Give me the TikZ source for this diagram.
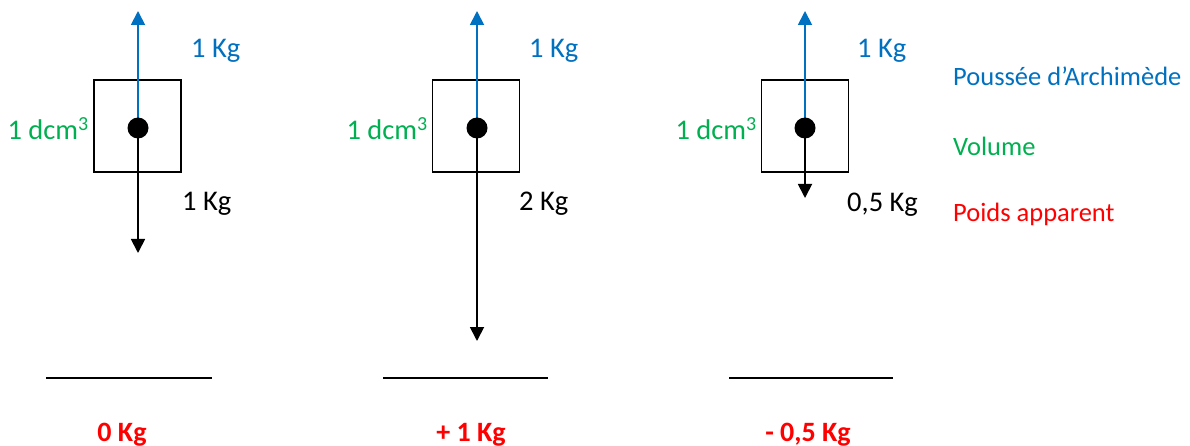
\documentclass[tikz,border=0pt]{standalone}
\usepackage{fontspec}
\setmainfont{Carlito}
\usetikzlibrary{arrows.meta}
\definecolor{oblue}{HTML}{0070C0}
\definecolor{ogreen}{HTML}{00B050}
\definecolor{ored}{HTML}{FF0000}
\begin{document}
\begin{tikzpicture}[x=1pt,y=-1pt,
  lbl/.style={inner sep=0pt,font=\fontsize{28.5}{32}\selectfont},
  leg/.style={inner sep=0pt,font=\fontsize{26.5}{30}\selectfont},
  res/.style={inner sep=0pt,font=\fontsize{28}{32}\selectfont\bfseries,text=ored},
  cube/.style={draw,line width=1.3pt,minimum width=87pt,minimum height=92pt,inner sep=0pt},
  ctr/.style={circle,fill=black,minimum size=21pt,inner sep=0pt},
  up/.style={oblue,line width=1.8pt,-{Triangle[length=14pt,width=14pt]}},
  down/.style={black,line width=1.8pt,-{Triangle[length=14pt,width=14pt]}},
  floor/.style={line width=2pt}]
\useasboundingbox (0,0) rectangle (1190,446);
% panel 1
\node[cube] (box1) at (137.5,126) {};
\coordinate (t1) at (138,11);
\coordinate (b1) at (138,253);
\draw[up] (138,128) -- (t1);
\draw[down] (138,128) -- (b1);
\node[ctr] (dot1) at (138,128) {};
\node[lbl,text=oblue,anchor=base west] (p1) at (191,58) {1 Kg};
\node[lbl,text=ogreen,anchor=base east] (v1) at (89,140) {1 dcm\textsuperscript{3}};
\node[lbl,anchor=base west] (w1) at (182,211) {1 Kg};
\coordinate (l1a) at (46,378);
\coordinate (l1b) at (212,378);
\draw[floor] (l1a) -- (l1b);
\node[res,anchor=base] (r1) at (122,441) {0 Kg};
% panel 2
\node[cube] (box2) at (476,126) {};
\coordinate (t2) at (477,11);
\coordinate (b2) at (477,341);
\draw[up] (477,128) -- (t2);
\draw[down] (477,128) -- (b2);
\node[ctr] (dot2) at (477,128) {};
\node[lbl,text=oblue,anchor=base west] (p2) at (529,58) {1 Kg};
\node[lbl,text=ogreen,anchor=base east] (v2) at (428,140) {1 dcm\textsuperscript{3}};
\node[lbl,anchor=base west] (w2) at (519,211) {2 Kg};
\coordinate (l2a) at (383,378);
\coordinate (l2b) at (548,378);
\draw[floor] (l2a) -- (l2b);
\node[res,anchor=base] (r2) at (471,441) {+ 1 Kg};
% panel 3
\node[cube] (box3) at (805,126) {};
\coordinate (t3) at (805,11);
\coordinate (b3) at (805,198);
\draw[up] (805,128) -- (t3);
\draw[down] (805,128) -- (b3);
\node[ctr] (dot3) at (805,128) {};
\node[lbl,text=oblue,anchor=base west] (p3) at (857,58) {1 Kg};
\node[lbl,text=ogreen,anchor=base east] (v3) at (757,140) {1 dcm\textsuperscript{3}};
\node[lbl,anchor=base west] (w3) at (847,212) {0,5 Kg};
\coordinate (l3a) at (729,378);
\coordinate (l3b) at (893,378);
\draw[floor] (l3a) -- (l3b);
\node[res,anchor=base] (r3) at (808,441) {- 0,5 Kg};
% legend
\node[leg,text=oblue,anchor=base west] (lg1) at (953,86) {Poussée d’Archimède};
\node[leg,text=ogreen,anchor=base west] (lg2) at (953,156) {Volume};
\node[leg,text=ored,anchor=base west] (lg3) at (953,222) {Poids apparent};
\end{tikzpicture}
\end{document}
